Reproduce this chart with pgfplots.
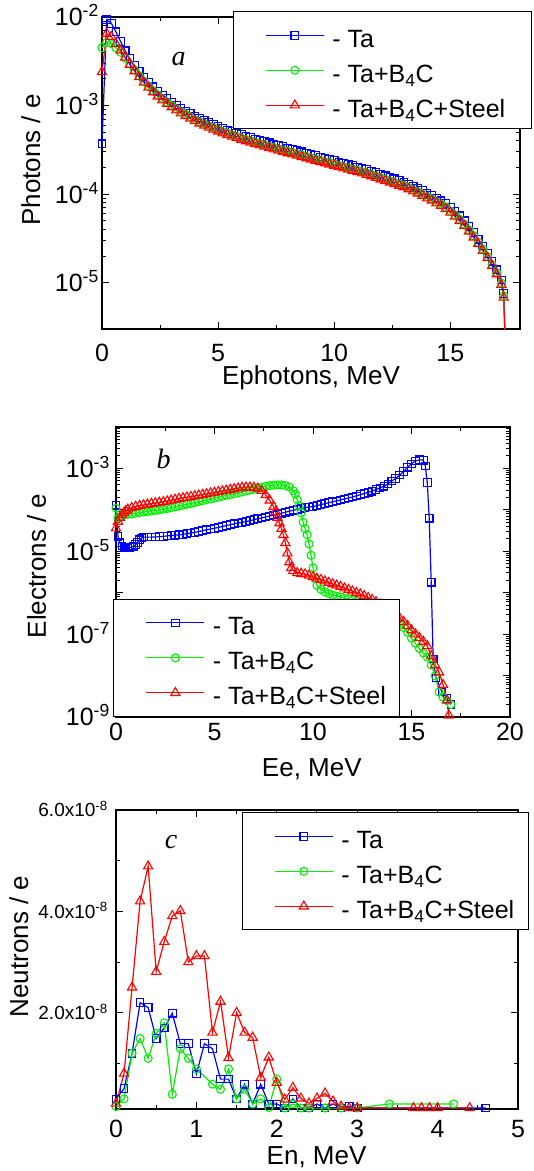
\documentclass[border=0pt]{standalone}
\usepackage{pgfplots}
\pgfplotsset{compat=1.18}
\usepackage{fontspec}
\setmainfont{Liberation Sans}
\newfontfamily\tnr{Liberation Serif}
\definecolor{cb}{RGB}{0,0,255}
\definecolor{cg}{RGB}{0,240,0}
\definecolor{cr}{RGB}{255,0,0}
\pgfplotsset{
  myaxis/.style={
    scale only axis,
    axis line style={line width=1.1pt},
    every tick/.style={black, line width=1pt},
    tick align=inside,
    major tick length=7pt,
    minor tick length=4pt,
    tick label style={font=\fontsize{25}{28}\selectfont},
    label style={font=\fontsize{26}{29}\selectfont},
    /pgf/number format/assume math mode=true,
    xticklabel style={anchor=north, inner sep=0pt, text height=17.9pt, text depth=0pt},
    yticklabel style={anchor=east, inner sep=0pt, text height=17.9pt, text depth=0pt},
    legend cell align=left,
    legend image code/.code={\path (0pt,0pt) (84pt,0pt); \draw[mark repeat=2,mark phase=2] plot coordinates {(18pt,0pt) (47pt,0pt) (76pt,0pt)};},
    legend style={draw=black, line width=0.8pt, fill=white, anchor=north west,
      font=\fontsize{25}{28}\selectfont, inner xsep=14pt, inner ysep=10.5pt, row sep=9pt,
      nodes={inner xsep=0pt, inner ysep=0pt, text height=25pt, text depth=1pt}},
  },
  sb/.style={cb, line width=1.2pt, mark=square, mark size=3.8pt, mark options={solid, line width=1.1pt}},
  sg/.style={cg, line width=1.2pt, mark=o, mark size=4pt, mark options={solid, line width=1.1pt}},
  sr/.style={cr, line width=1.2pt, mark=triangle, mark size=5.3pt, mark options={solid, line width=1.1pt}},
}
\begin{document}
\begin{tikzpicture}
\path[use as bounding box] (0pt,0pt) rectangle (534pt,-1171pt);
% ---------------- panel a ----------------
\begin{axis}[myaxis, at={(102pt,-329pt)}, anchor=south west, width=418pt, height=312pt,
  xmin=0, xmax=18, ymode=log, ymin=3e-6, ymax=1e-2,
  xtick={0,5,10,15}, minor x tick num=1,
  ytick={1e-5,1e-4,1e-3,1e-2},
  yticklabels={10\textsuperscript{-5},10\textsuperscript{-4},10\textsuperscript{-3},10\textsuperscript{-2}},
  xticklabel style={yshift=-14pt}, yticklabel style={xshift=-3pt},
  xlabel={Ephotons, MeV}, ylabel={Photons / e},
  xlabel style={at={(axis description cs:0.5,-0.157)}, anchor=center},
  ylabel style={at={(axis description cs:-0.17,0.542)}, anchor=center},
  legend style={at={(0.313,1.018)}},
]
\addplot[sb] coordinates {
(0.0,3.7e-4)(0.2,9.3e-3)(0.4,8.5e-3)(0.6,6.8e-3)(0.8,5.3e-3)(1.0,4.15e-3)(1.2,3.42e-3)(1.4,2.85e-3)(1.6,2.43e-3)(1.8,2.1e-3)
(2.0,1.84e-3)(2.2,1.63e-3)(2.4,1.45e-3)(2.6,1.32e-3)(2.8,1.2e-3)(3.0,1.1e-3)(3.2,1.01e-3)(3.4,9.35e-4)(3.6,8.7e-4)(3.8,8.15e-4)
(4.0,7.65e-4)(4.2,7.2e-4)(4.4,6.8e-4)(4.6,6.45e-4)(4.8,6.13e-4)(5.0,5.83e-4)(5.2,5.56e-4)(5.4,5.32e-4)(5.6,5.1e-4)(5.8,4.9e-4)
(6.0,4.7e-4)(6.2,4.52e-4)(6.4,4.36e-4)(6.6,4.21e-4)(6.8,4.07e-4)(7.0,3.93e-4)(7.2,3.8e-4)(7.4,3.67e-4)(7.6,3.55e-4)(7.8,3.43e-4)
(8.0,3.32e-4)(8.2,3.21e-4)(8.4,3.11e-4)(8.6,3.01e-4)(8.8,2.91e-4)(9.0,2.82e-4)(9.2,2.72e-4)(9.4,2.63e-4)(9.6,2.55e-4)(9.8,2.47e-4)
(10.0,2.39e-4)(10.2,2.31e-4)(10.4,2.23e-4)(10.6,2.17e-4)(10.8,2.1e-4)(11.0,2.03e-4)(11.2,1.96e-4)(11.4,1.89e-4)(11.6,1.82e-4)(11.8,1.75e-4)
(12.0,1.68e-4)(12.2,1.61e-4)(12.4,1.55e-4)(12.6,1.49e-4)(12.8,1.43e-4)(13.0,1.37e-4)(13.2,1.3e-4)(13.4,1.23e-4)(13.6,1.17e-4)(13.8,1.1e-4)
(14.0,1.03e-4)(14.2,9.7e-5)(14.4,9.0e-5)(14.6,8.4e-5)(14.8,7.8e-5)(15.0,7.1e-5)(15.2,6.4e-5)(15.4,5.7e-5)(15.6,5.0e-5)(15.8,4.35e-5)
(16.0,3.7e-5)(16.2,3.1e-5)(16.4,2.6e-5)(16.6,2.15e-5)(16.8,1.75e-5)(17.0,1.4e-5)(17.2,1.07e-5)(17.3,7.6e-6)(17.4,1.0e-6)
};
\addlegendentry{- Ta}
\addplot[sg] coordinates {
(0.0,4.5e-3)(0.2,5.2e-3)(0.4,5.0e-3)(0.6,4.5e-3)(0.8,4.0e-3)(1.0,3.45e-3)(1.2,2.95e-3)(1.4,2.52e-3)(1.6,2.17e-3)(1.8,1.89e-3)
(2.0,1.66e-3)(2.2,1.47e-3)(2.4,1.32e-3)(2.6,1.2e-3)(2.8,1.09e-3)(3.0,1.0e-3)(3.2,9.2e-4)(3.4,8.5e-4)(3.6,7.95e-4)(3.8,7.45e-4)
(4.0,6.95e-4)(4.2,6.55e-4)(4.4,6.2e-4)(4.6,5.9e-4)(4.8,5.6e-4)(5.0,5.32e-4)(5.2,5.08e-4)(5.4,4.86e-4)(5.6,4.66e-4)(5.8,4.47e-4)
(6.0,4.3e-4)(6.2,4.13e-4)(6.4,3.98e-4)(6.6,3.85e-4)(6.8,3.71e-4)(7.0,3.59e-4)(7.2,3.46e-4)(7.4,3.35e-4)(7.6,3.23e-4)(7.8,3.13e-4)
(8.0,3.03e-4)(8.2,2.93e-4)(8.4,2.84e-4)(8.6,2.75e-4)(8.8,2.65e-4)(9.0,2.57e-4)(9.2,2.49e-4)(9.4,2.4e-4)(9.6,2.33e-4)(9.8,2.26e-4)
(10.0,2.18e-4)(10.2,2.11e-4)(10.4,2.04e-4)(10.6,1.98e-4)(10.8,1.91e-4)(11.0,1.85e-4)(11.2,1.79e-4)(11.4,1.73e-4)(11.6,1.66e-4)(11.8,1.59e-4)
(12.0,1.53e-4)(12.2,1.47e-4)(12.4,1.41e-4)(12.6,1.35e-4)(12.8,1.3e-4)(13.0,1.25e-4)(13.2,1.19e-4)(13.4,1.12e-4)(13.6,1.06e-4)(13.8,1.0e-4)
(14.0,9.4e-5)(14.2,8.8e-5)(14.4,8.2e-5)(14.6,7.7e-5)(14.8,7.1e-5)(15.0,6.45e-5)(15.2,5.8e-5)(15.4,5.2e-5)(15.6,4.6e-5)(15.8,3.95e-5)
(16.0,3.4e-5)(16.2,2.86e-5)(16.4,2.4e-5)(16.6,1.98e-5)(16.8,1.6e-5)(17.0,1.3e-5)(17.2,9.9e-6)(17.3,7.1e-6)(17.4,1.0e-6)
};
\addlegendentry{- Ta+B\textsubscript{4}C}
\addplot[sr] coordinates {
(0.0,2.4e-3)(0.2,6.5e-3)(0.4,6.0e-3)(0.6,5.0e-3)(0.8,4.2e-3)(1.0,3.5e-3)(1.2,2.9e-3)(1.4,2.45e-3)(1.6,2.1e-3)(1.8,1.82e-3)
(2.0,1.6e-3)(2.2,1.42e-3)(2.4,1.27e-3)(2.6,1.15e-3)(2.8,1.05e-3)(3.0,9.6e-4)(3.2,8.85e-4)(3.4,8.2e-4)(3.6,7.65e-4)(3.8,7.15e-4)
(4.0,6.7e-4)(4.2,6.3e-4)(4.4,5.95e-4)(4.6,5.65e-4)(4.8,5.38e-4)(5.0,5.12e-4)(5.2,4.88e-4)(5.4,4.67e-4)(5.6,4.48e-4)(5.8,4.3e-4)
(6.0,4.13e-4)(6.2,3.97e-4)(6.4,3.83e-4)(6.6,3.7e-4)(6.8,3.57e-4)(7.0,3.45e-4)(7.2,3.33e-4)(7.4,3.22e-4)(7.6,3.11e-4)(7.8,3.01e-4)
(8.0,2.91e-4)(8.2,2.82e-4)(8.4,2.73e-4)(8.6,2.64e-4)(8.8,2.55e-4)(9.0,2.47e-4)(9.2,2.39e-4)(9.4,2.31e-4)(9.6,2.24e-4)(9.8,2.17e-4)
(10.0,2.1e-4)(10.2,2.03e-4)(10.4,1.96e-4)(10.6,1.9e-4)(10.8,1.84e-4)(11.0,1.78e-4)(11.2,1.72e-4)(11.4,1.66e-4)(11.6,1.6e-4)(11.8,1.53e-4)
(12.0,1.47e-4)(12.2,1.41e-4)(12.4,1.36e-4)(12.6,1.3e-4)(12.8,1.25e-4)(13.0,1.2e-4)(13.2,1.14e-4)(13.4,1.08e-4)(13.6,1.02e-4)(13.8,9.6e-5)
(14.0,9.0e-5)(14.2,8.5e-5)(14.4,7.9e-5)(14.6,7.4e-5)(14.8,6.8e-5)(15.0,6.2e-5)(15.2,5.6e-5)(15.4,5.0e-5)(15.6,4.4e-5)(15.8,3.8e-5)
(16.0,3.25e-5)(16.2,2.75e-5)(16.4,2.3e-5)(16.6,1.9e-5)(16.8,1.55e-5)(17.0,1.25e-5)(17.2,9.5e-6)(17.3,6.8e-6)(17.4,1.0e-6)
};
\addlegendentry{- Ta+B\textsubscript{4}C+Steel\hspace*{12pt}}
\end{axis}
% ---------------- panel b ----------------
\begin{axis}[myaxis, at={(116pt,-717pt)}, anchor=south west, width=394pt, height=290pt,
  xmin=0, xmax=20, ymode=log, ymin=1e-9, ymax=1e-2,
  xtick={0,5,10,15,20}, minor x tick num=1,
  ytick={1e-9,1e-8,1e-7,1e-6,1e-5,1e-4,1e-3,1e-2},
  yticklabels={10\textsuperscript{-9},,10\textsuperscript{-7},,10\textsuperscript{-5},,10\textsuperscript{-3},},
  xticklabel style={yshift=-5pt}, yticklabel style={xshift=-6pt},
  xlabel={Ee, MeV}, ylabel={Electrons / e},
  xlabel style={at={(axis description cs:0.497,-0.179)}, anchor=center},
  ylabel style={at={(axis description cs:-0.2015,0.521)}, anchor=center},
  legend style={at={(-0.0066,0.407)}},
]
\addplot[sb] coordinates {
(0.0,1.3e-4)(0.1,2.3e-5)(0.2,1.6e-5)(0.3,1.35e-5)(0.4,1.25e-5)(0.5,1.2e-5)(0.6,1.2e-5)(0.7,1.22e-5)(0.8,1.27e-5)(0.9,1.33e-5)
(1.0,1.45e-5)(1.1,1.65e-5)(1.2,1.9e-5)(1.3,2.1e-5)(1.4,2.2e-5)(1.6,2.2e-5)(1.8,2.2e-5)(2.0,2.22e-5)(2.2,2.25e-5)(2.4,2.3e-5)
(2.6,2.35e-5)(2.8,2.4e-5)(3.0,2.45e-5)(3.2,2.5e-5)(3.4,2.57e-5)(3.6,2.66e-5)(3.8,2.76e-5)(4.0,2.87e-5)(4.2,3.0e-5)(4.4,3.15e-5)
(4.6,3.3e-5)(4.8,3.45e-5)(5.0,3.6e-5)(5.2,3.78e-5)(5.4,3.97e-5)(5.6,4.17e-5)(5.8,4.38e-5)(6.0,4.6e-5)(6.2,4.83e-5)(6.4,5.0e-5)
(6.6,5.2e-5)(6.8,5.5e-5)(7.0,5.8e-5)(7.2,6.1e-5)(7.4,6.4e-5)(7.6,6.75e-5)(7.8,7.1e-5)(8.0,7.5e-5)(8.2,7.9e-5)(8.4,8.3e-5)
(8.6,8.8e-5)(8.8,9.3e-5)(9.0,9.8e-5)(9.2,1.03e-4)(9.4,1.08e-4)(9.6,1.13e-4)(9.8,1.17e-4)(10.0,1.2e-4)(10.2,1.27e-4)(10.4,1.34e-4)
(10.6,1.41e-4)(10.8,1.49e-4)(11.0,1.57e-4)(11.2,1.65e-4)(11.4,1.74e-4)(11.6,1.84e-4)(11.8,1.94e-4)(12.0,2.04e-4)(12.2,2.18e-4)(12.4,2.32e-4)
(12.6,2.48e-4)(12.8,2.64e-4)(13.0,2.82e-4)(13.2,3.09e-4)(13.4,3.39e-4)(13.6,3.72e-4)(13.8,4.2e-4)(14.0,5.0e-4)(14.2,5.75e-4)(14.4,6.9e-4)
(14.6,8.5e-4)(14.8,1.07e-3)(15.0,1.29e-3)(15.2,1.51e-3)(15.4,1.62e-3)(15.6,1.58e-3)(15.7,1.15e-3)(15.8,4.6e-4)(15.9,6.3e-5)(16.0,1.8e-6)
(16.1,2.5e-8)(16.25,8.7e-9)(16.55,4.0e-9)(16.8,2.8e-9)(17.0,2.0e-9)
};
\addlegendentry{- Ta}
\addplot[sg] coordinates {
(0.0,1.1e-4)(0.1,6.3e-5)(0.2,6.8e-5)(0.4,7.6e-5)(0.6,7.8e-5)(0.8,8.0e-5)(1.0,8.3e-5)(1.2,8.6e-5)(1.4,8.9e-5)(1.6,9.1e-5)
(1.8,9.4e-5)(2.0,9.7e-5)(2.2,1.0e-4)(2.4,1.04e-4)(2.6,1.08e-4)(2.8,1.13e-4)(3.0,1.18e-4)(3.2,1.24e-4)(3.4,1.3e-4)(3.6,1.36e-4)
(3.8,1.43e-4)(4.0,1.5e-4)(4.2,1.58e-4)(4.4,1.66e-4)(4.6,1.75e-4)(4.8,1.84e-4)(5.0,1.93e-4)(5.2,2.02e-4)(5.4,2.12e-4)(5.6,2.22e-4)
(5.8,2.33e-4)(6.0,2.45e-4)(6.2,2.57e-4)(6.4,2.7e-4)(6.6,2.85e-4)(6.8,3.0e-4)(7.0,3.15e-4)(7.2,3.3e-4)(7.4,3.5e-4)(7.6,3.7e-4)
(7.8,3.85e-4)(8.0,3.95e-4)(8.2,4.0e-4)(8.4,4.0e-4)(8.6,3.85e-4)(8.8,3.55e-4)(9.0,2.9e-4)(9.1,2.4e-4)(9.2,1.75e-4)(9.3,1.25e-4)
(9.4,8.5e-5)(9.5,5.0e-5)(9.6,3.5e-5)(9.7,2.5e-5)(9.8,1.5e-5)(9.9,8.0e-6)(10.0,4.0e-6)(10.1,2.2e-6)(10.2,1.5e-6)(10.4,1.2e-6)
(10.6,1.05e-6)(10.8,9.5e-7)(11.0,8.8e-7)(11.2,8.3e-7)(11.4,7.9e-7)(11.6,7.4e-7)(11.8,7.0e-7)(12.0,6.6e-7)(12.2,6.2e-7)(12.4,5.8e-7)
(12.6,5.4e-7)(12.8,5.0e-7)(13.0,4.6e-7)(13.2,4.2e-7)(13.4,3.8e-7)(13.6,3.4e-7)(13.8,2.9e-7)(14.0,2.5e-7)(14.2,2.1e-7)(14.4,1.75e-7)
(14.6,1.45e-7)(14.8,1.1e-7)(15.0,8.0e-8)(15.2,6.0e-8)(15.4,4.5e-8)(15.6,3.5e-8)(15.8,2.8e-8)(16.0,1.8e-8)(16.2,1.0e-8)(16.4,4.0e-9)
(16.6,3.0e-9)(16.8,2.5e-9)(17.0,2.0e-9)
};
\addlegendentry{- Ta+B\textsubscript{4}C}
\addplot[sr] coordinates {
(0.0,3.6e-5)(0.1,5.2e-5)(0.2,6.5e-5)(0.3,7.6e-5)(0.4,8.6e-5)(0.5,9.5e-5)(0.6,1.02e-4)(0.8,1.12e-4)(1.0,1.2e-4)(1.2,1.26e-4)
(1.4,1.31e-4)(1.6,1.36e-4)(1.8,1.41e-4)(2.0,1.46e-4)(2.2,1.51e-4)(2.4,1.56e-4)(2.6,1.62e-4)(2.8,1.7e-4)(3.0,1.78e-4)(3.2,1.86e-4)
(3.4,1.93e-4)(3.6,2.0e-4)(3.8,2.08e-4)(4.0,2.16e-4)(4.2,2.24e-4)(4.4,2.33e-4)(4.6,2.42e-4)(4.8,2.52e-4)(5.0,2.62e-4)(5.2,2.72e-4)
(5.4,2.83e-4)(5.6,2.95e-4)(5.8,3.07e-4)(6.0,3.2e-4)(6.2,3.33e-4)(6.4,3.45e-4)(6.6,3.5e-4)(6.8,3.5e-4)(7.0,3.45e-4)(7.2,3.3e-4)
(7.4,2.9e-4)(7.6,2.3e-4)(7.8,1.7e-4)(8.0,1.2e-4)(8.1,9.0e-5)(8.2,6.5e-5)(8.3,4.8e-5)(8.4,3.5e-5)(8.5,2.5e-5)(8.6,1.6e-5)
(8.7,9.0e-6)(8.8,5.5e-6)(8.9,4.0e-6)(9.0,3.4e-6)(9.2,3.0e-6)(9.4,2.9e-6)(9.6,2.8e-6)(9.8,2.6e-6)(10.0,2.4e-6)(10.2,2.2e-6)
(10.4,2.05e-6)(10.6,1.9e-6)(10.8,1.75e-6)(11.0,1.62e-6)(11.2,1.5e-6)(11.4,1.4e-6)(11.6,1.28e-6)(11.8,1.18e-6)(12.0,1.09e-6)(12.2,1.0e-6)
(12.4,9.2e-7)(12.6,8.4e-7)(12.8,7.6e-7)(13.0,6.8e-7)(13.2,6.0e-7)(13.4,5.3e-7)(13.6,4.6e-7)(13.8,4.0e-7)(14.0,3.4e-7)(14.2,2.9e-7)
(14.4,2.4e-7)(14.6,2.0e-7)(14.8,1.6e-7)(15.0,1.25e-7)(15.2,1.0e-7)(15.4,8.2e-8)(15.6,6.6e-8)(15.8,5.2e-8)(16.0,3.0e-8)(16.2,1.8e-8)
(16.4,1.2e-8)(16.6,6.0e-9)(16.8,2.5e-9)(16.9,1.1e-9)(17.0,5.0e-10)
};
\addlegendentry{- Ta+B\textsubscript{4}C+Steel}
\end{axis}
% ---------------- panel c ----------------
\begin{axis}[myaxis, at={(116pt,-1109pt)}, anchor=south west, width=402pt, height=299pt,
  xmin=0, xmax=5, ymin=0.1e-8, ymax=6e-8,
  xtick={0,1,2,3,4,5}, minor x tick num=1,
  scaled y ticks=false,
  ytick={2e-8,4e-8,6e-8}, minor ytick={1e-8,3e-8,5e-8},
  yticklabels={2.0x10\textsuperscript{-8},4.0x10\textsuperscript{-8},6.0x10\textsuperscript{-8}},
  yticklabel style={font=\fontsize{19}{22}\selectfont, text height=13.6pt, xshift=-8pt},
  xticklabel style={yshift=-10pt},
  xlabel={En, MeV}, ylabel={Neutrons / e},
  xlabel style={at={(axis description cs:0.499,-0.162)}, anchor=center},
  ylabel style={at={(axis description cs:-0.242,0.543)}, anchor=center},
  legend style={at={(0.313,0.992)}},
]
\addplot[sb] coordinates {
(0.0,0.3e-8)(0.1,0.5e-8)(0.2,1.2e-8)(0.3,2.2e-8)(0.4,2.1e-8)(0.5,1.49e-8)(0.6,1.7e-8)(0.7,1.99e-8)(0.8,1.39e-8)(0.9,1.39e-8)
(1.0,0.79e-8)(1.1,1.39e-8)(1.2,1.29e-8)(1.3,0.69e-8)(1.4,0.69e-8)(1.5,0.3e-8)(1.6,0.59e-8)(1.7,0.2e-8)(1.8,0.59e-8)(1.9,0.2e-8)
(2.0,0.2e-8)(2.1,0.12e-8)(2.2,0.3e-8)(2.3,0.12e-8)(2.4,0.12e-8)(2.5,0.2e-8)(2.6,0.12e-8)(2.7,0.2e-8)(2.8,0.12e-8)(2.9,0.15e-8)
(3.0,0.12e-8)(4.6,0.12e-8)
};
\addlegendentry{- Ta}
\addplot[sg] coordinates {
(0.0,0.15e-8)(0.1,0.3e-8)(0.2,1.2e-8)(0.3,1.49e-8)(0.4,1.1e-8)(0.5,1.59e-8)(0.6,1.8e-8)(0.7,0.39e-8)(0.8,1.29e-8)(0.9,1.1e-8)
(1.0,0.89e-8)(1.2,0.59e-8)(1.3,0.49e-8)(1.4,0.89e-8)(1.5,0.3e-8)(1.6,0.49e-8)(1.7,0.2e-8)(1.8,0.3e-8)(1.9,0.13e-8)(2.0,0.69e-8)
(2.1,0.12e-8)(2.2,0.2e-8)(2.3,0.12e-8)(2.4,0.12e-8)(2.6,0.12e-8)(2.8,0.12e-8)(3.0,0.12e-8)(3.4,0.2e-8)(4.2,0.2e-8)
};
\addlegendentry{- Ta+B\textsubscript{4}C}
\addplot[sr] coordinates {
(0.0,0.21e-8)(0.1,0.8e-8)(0.2,2.5e-8)(0.3,4.2e-8)(0.4,4.89e-8)(0.5,2.81e-8)(0.6,3.4e-8)(0.7,3.91e-8)(0.8,4.01e-8)(0.9,3.0e-8)
(1.0,3.12e-8)(1.1,3.12e-8)(1.2,1.61e-8)(1.3,2.22e-8)(1.4,1.11e-8)(1.5,2.0e-8)(1.6,1.61e-8)(1.7,1.51e-8)(1.8,0.72e-8)(1.9,1.12e-8)
(2.0,0.62e-8)(2.1,0.29e-8)(2.2,0.52e-8)(2.3,0.31e-8)(2.4,0.21e-8)(2.5,0.31e-8)(2.6,0.41e-8)(2.7,0.25e-8)(2.8,0.15e-8)(2.9,0.12e-8)
(3.0,0.12e-8)(3.7,0.12e-8)(3.8,0.12e-8)(3.9,0.12e-8)(4.0,0.12e-8)(4.4,0.12e-8)
};
\addlegendentry{- Ta+B\textsubscript{4}C+Steel}
\end{axis}
\node[font=\fontsize{28}{30}\selectfont\tnr\itshape] at (178.5pt,-58.8pt) {a};
\node[font=\fontsize{28}{30}\selectfont\tnr\itshape] at (163.5pt,-459pt) {b};
\node[font=\fontsize{28}{30}\selectfont\tnr\itshape] at (171pt,-842pt) {c};
\end{tikzpicture}
\end{document}
